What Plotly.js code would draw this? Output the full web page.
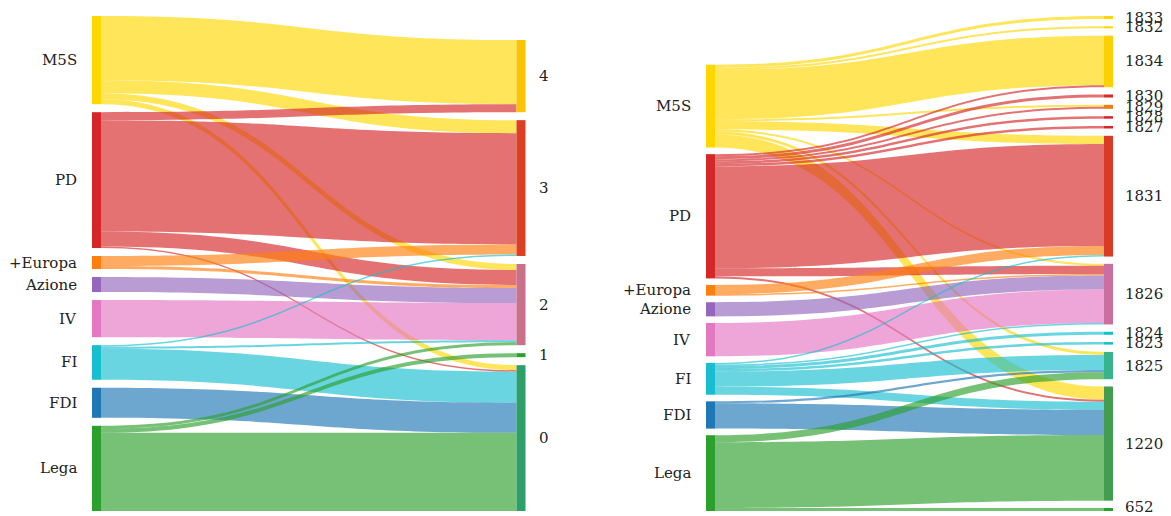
<!DOCTYPE html>
<html><head><meta charset="utf-8">
<script src="https://cdn.plot.ly/plotly-3.0.1.min.js"></script>
<style>html,body{margin:0;padding:0;background:#fff}</style>
</head><body><div id="chart" style="width:1171px;height:516px"></div>
<script>
// ---- data ----
const parties = ['M5S','PD','+Europa','Azione','IV','FI','FDI','Lega'];
const partyColors = ['#FFD700','#D62728','#FF7F0E','#9467BD','#E377C2','#17BECF','#1F77B4','#2CA02C'];

// left chart: clusters
const clustersA = ['4','3','2','1','0'];
const srcA = ['M5S','M5S','M5S','M5S','PD','PD','PD','PD','+Europa','+Europa','Azione','IV','FI','FI','FI','FDI','Lega','Lega','Lega'];
const tgtA = ['4','3','2','0','4','3','2','0','3','2','2','2','3','2','0','0','2','1','0'];
const valA = [64,13,6,5, 8,111,15,1.5, 10,3, 15, 37, 1.5,2,31, 30, 3,4,78];

// right chart: communities
const clustersB = ['1833','1832','1834','1830','1829','1828','1827','1831','1826','1824','1823','1825','1220','652'];
const srcB = ['M5S','M5S','M5S','M5S','M5S','M5S','M5S','M5S',
              'PD','PD','PD','PD','PD','PD','PD','PD',
              '+Europa','+Europa','Azione','IV',
              'FI','FI','FI','FI','FI','FI',
              'FDI','FDI','Lega','Lega','Lega'];
const tgtB = ['1833','1832','1834','1829','1831','1826','1825','1220',
              '1834','1830','1829','1828','1827','1831','1826','1220',
              '1831','1826','1826','1826',
              '1831','1826','1824','1823','1825','1220',
              '1825','1220','1825','1220','652'];
const valB = [3,2,49,2,8,2,3,13,
              2,3,2,2.5,2.5,101,8,2,
              9,1.5,14,33,
              1.5,1.5,3,2.5,15,8,
              2,25,7,65,3];

// ---- helpers ----
const W = 1171, Hpx = 516;
function hexRgb(h){h=h.replace('#','');return [0,2,4].map(i=>parseInt(h.substr(i,2),16));}
function rgba(c,a){return 'rgba('+c.map(Math.round).join(',')+','+a+')';}
const FONT = {family:"DejaVu Serif", size:15, color:'#222'};

function build(targets, src, tgt, val, opt){
  const nS = parties.length, nT = targets.length;
  const sI = src.map(s=>parties.indexOf(s));
  const tI = tgt.map(t=>targets.indexOf(t));
  const outV = new Array(nS).fill(0), inV = new Array(nT).fill(0);
  const mix = targets.map(()=>[0,0,0]);
  val.forEach((v,k)=>{
    outV[sI[k]] += v; inV[tI[k]] += v;
    const c = hexRgb(partyColors[sI[k]]);
    for(let j=0;j<3;j++) mix[tI[k]][j] += c[j]*v;
  });
  const tColors = mix.map((m,i)=>rgba(m.map(x=>x/inV[i]),1));
  const total = val.reduce((a,b)=>a+b,0);
  const H = opt.y1 - opt.y0;
  const pad = opt.pad;
  const ky = Math.min((H-(nS-1)*pad)/total, (H-(nT-1)*pad)/total);
  function stack(vals, gap){
    const c = new Array(vals.length); let y = H;
    for(let i=vals.length-1;i>=0;i--){const h=vals[i]*ky; c[i]=y-h/2; y-=h+gap;}
    return c;
  }
  const cS = stack(outV, opt.gapS || pad), cT = stack(inV, pad);
  const Wd = (opt.cR - opt.cL) + 2*opt.edge;
  const fxL = opt.edge/Wd, fxR = 1 - opt.edge/Wd;
  const trace = {
    type:'sankey', arrangement:'fixed', hoverinfo:'none',
    domain:{x:[(opt.cL-opt.edge)/W,(opt.cR+opt.edge)/W], y:[1-opt.y1/Hpx, 1-opt.y0/Hpx]},
    node:{
      label: new Array(nS+nT).fill(''),
      color: partyColors.concat(tColors),
      thickness: opt.thick, pad: pad,
      line:{width:0},
      x: new Array(nS).fill(fxL).concat(new Array(nT).fill(fxR)),
      y: cS.map(c=>c/H).concat(cT.map(c=>c/H)),
      hoverinfo:'none'
    },
    link:{
      source: sI, target: tI.map(t=>t+nS), value: val,
      color: sI.map(i=>rgba(hexRgb(partyColors[i]),0.65)),
      line:{width:0},
      hoverinfo:'none'
    }
  };
  const ann = [];
  const lim = Hpx - 9;
  parties.forEach((p,i)=>ann.push({xref:'paper',yref:'paper',showarrow:false,text:p,font:FONT,
    x:(opt.cL-opt.thick/2-opt.gapL)/W, xanchor:'right', y:1-Math.min(opt.y0+cS[i],lim)/Hpx, yanchor:'middle', borderpad:0}));
  targets.forEach((t,i)=>ann.push({xref:'paper',yref:'paper',showarrow:false,text:t,font:FONT,
    x:(opt.cR+opt.thick/2+opt.gapR)/W, xanchor:'left', y:1-Math.min(opt.y0+cT[i],lim)/Hpx, yanchor:'middle', borderpad:0}));
  return {trace, ann};
}

const A = build(clustersA, srcA, tgtA, valA, {cL:96.5, cR:521, edge:8.5, y0:16, y1:511, pad:8, thick:9, gapL:14, gapR:12});
const B = build(clustersB, srcB, tgtB, valB, {cL:710.5, cR:1108.5, edge:8.5, y0:16, y1:511, pad:7.3, gapS:6.6, thick:9, gapL:14, gapR:11});

Plotly.newPlot('chart', [A.trace, B.trace], {
  width:W, height:Hpx, margin:{l:0,r:0,t:0,b:0},
  paper_bgcolor:'#fff', showlegend:false,
  font:FONT,
  annotations: A.ann.concat(B.ann)
}, {displayModeBar:false, staticPlot:true});
</script></body></html>
